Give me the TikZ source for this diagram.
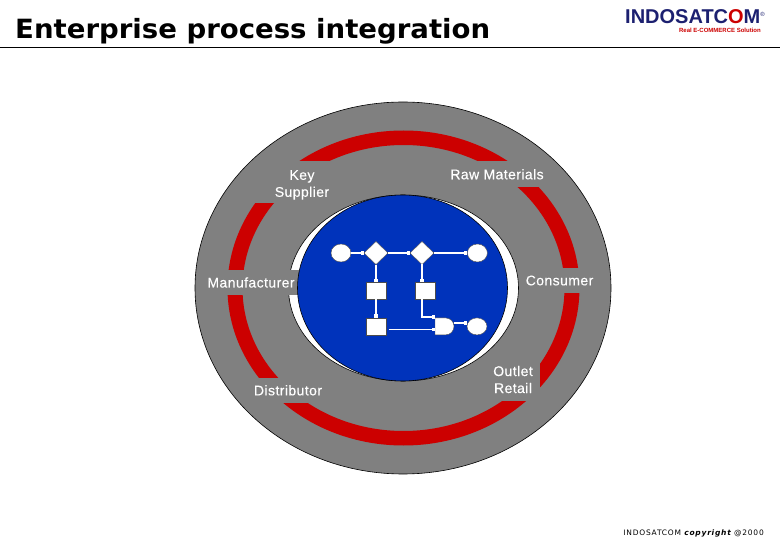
\documentclass[tikz,border=0pt]{standalone}
\usepackage{fontspec}
\setmainfont{Liberation Sans}
\newfontfamily\titlefont[FakeStretch=1.04]{DejaVu Sans}
\newfontfamily\labelfont[LetterSpace=3,FakeBold=0.25]{Liberation Sans}
\newfontfamily\footfont[LetterSpace=10.4]{DejaVu Sans}
\usetikzlibrary{shapes.geometric, shapes.misc, arrows.meta, positioning}
\definecolor{discgray}{HTML}{808080}
\definecolor{ringred}{HTML}{CC0000}
\definecolor{hubblue}{HTML}{0033BB}
\definecolor{logonavy}{HTML}{1C2070}
\tikzset{
    disc/.style={
        ellipse, inner sep=0pt, outer sep=0pt, draw=black, line width=0.6pt
    },
    partner/.style={
        rectangle, inner sep=0pt, outer sep=0pt, fill=discgray, text=white,
        align=center, font=\labelfont\fontsize{14}{17}\selectfont
    },
    terminal/.style={
        ellipse, inner sep=0pt, outer sep=0pt, minimum width=20pt, minimum height=18pt,
        fill=white, draw=black!70, line width=0.4pt
    },
    decision/.style={
        diamond, aspect=1, inner sep=0pt, outer sep=0pt, minimum width=24pt, minimum height=23pt,
        fill=white, draw=black!70, line width=0.4pt
    },
    process/.style={
        rectangle, inner sep=0pt, outer sep=0pt, minimum width=20pt, minimum height=17pt,
        fill=white, draw=black!70, line width=0.4pt
    },
    merge/.style={
        rounded rectangle, rounded rectangle left arc=none, inner sep=0pt, outer sep=0pt,
        minimum width=19pt, minimum height=17pt,
        fill=white, draw=black!70, line width=0.4pt
    },
    flow/.style={
        -{Square[length=3.5pt,width=3.5pt]}, draw=white, line width=1.6pt
    }
}
\begin{document}
\begin{tikzpicture}[x=1pt, y=-1pt]

    \useasboundingbox (0,0) rectangle (780,540);

    % header
    \node[anchor=base west, inner sep=0pt, font=\titlefont\bfseries\fontsize{26.5}{28}\selectfont] (title) at (15,38.5) {Enterprise process integration};
    \coordinate (ruleL) at (0,47.5);
    \coordinate (ruleR) at (780,47.5);
    \draw[line width=1.6pt] (ruleL) -- (ruleR);

    \node[anchor=base west, inner sep=0pt, text=logonavy, font=\bfseries\fontsize{20}{22}\selectfont] (logo) at (625,23.5)
        {INDOSATC{\color{ringred}O}M\raisebox{7pt}{\fontsize{6}{6}\selectfont\mdseries ®}};
    \node[anchor=base east, inner sep=0pt, text=ringred, font=\bfseries\fontsize{6}{6}\selectfont] (tagline) at (761,32.5)
        {Real E-COMMERCE Solution};

    % rings
    \node[disc, fill=discgray, minimum width=416pt, minimum height=372pt] (outer) at (403,288) {};
    \fill[ringred, even odd rule] (403.5,288) ellipse [x radius=176pt, y radius=157.5pt]
                                  (403.5,288) ellipse [x radius=161pt, y radius=143pt];
    \node[disc, fill=white, minimum width=230pt, minimum height=186pt] (gap) at (403.5,288) {};

    % partners
    \node[partner, minimum width=100pt, minimum height=41.5pt] (supplier)     at (302,182.25) {\rule{0pt}{15pt}Key\\Supplier};
    \node[partner, minimum width=96pt,  minimum height=25.5pt] (materials)    at (497,174.25) {Raw Materials};
    \node[partner, minimum width=96pt,  minimum height=25pt]   (manufacturer) at (251,282.5)  {Manufacturer};
    \node[partner, minimum width=76pt,  minimum height=25pt]   (consumer)     at (559.5,280.5) {\raisebox{-1pt}{Consumer}};
    \node[partner, minimum width=90pt,  minimum height=24.7pt] (distributor)  at (288,390.35) {\raisebox{-1pt}{Distributor}};
    \node[partner, minimum width=54pt,  minimum height=43pt]   (outlet)       at (513,379.5)  {Outlet\\Retail};

    \node[disc, fill=hubblue, minimum width=210pt, minimum height=186pt] (hub) at (402.5,288) {};

    % flow
    \node[terminal] (startdot) at (341,253) {};
    \node[decision, right=13pt of startdot]      (choiceA) {};
    \node[decision, right=22pt of choiceA]       (choiceB) {};
    \node[terminal, right=33.4pt of choiceB]     (enddotA) {};
    \node[process, below=18pt of choiceA]        (boxA) {};
    \node[process, below=18pt of choiceB, xshift=3.4pt] (boxB) {};
    \node[process, below=18.4pt of boxA]         (boxC) {};
    \node[merge, right=49pt of boxC]             (gate) {};
    \node[terminal, minimum height=17pt, right=13pt of gate] (enddotB) {};

    \draw[flow] (startdot) -- (choiceA);
    \draw[flow] (choiceA)  -- (choiceB);
    \draw[flow] (choiceB)  -- (enddotA);
    \draw[flow] (choiceA)  -- (boxA);
    \draw[flow] (choiceB.south) -- ([xshift=-3.4pt]boxB.north);
    \draw[flow] (boxA)     -- (boxC);
    \draw[flow] ([xshift=-3.4pt]boxB.south) |- ([yshift=9.3pt]gate.west);
    \draw[flow] ([xshift=2.5pt,yshift=-3pt]boxC.east) -- ([yshift=-3pt]gate.west);
    \draw[flow] ([yshift=3.3pt]gate.east) -- ([yshift=3.3pt]enddotB.west);

    % footer
    \node[anchor=base east, inner sep=0pt, font=\footfont\fontsize{7.5}{9}\selectfont] (copyright) at (764,535)
        {INDOSATCOM {\bfseries\itshape copyright} @2000};

\end{tikzpicture}
\end{document}
